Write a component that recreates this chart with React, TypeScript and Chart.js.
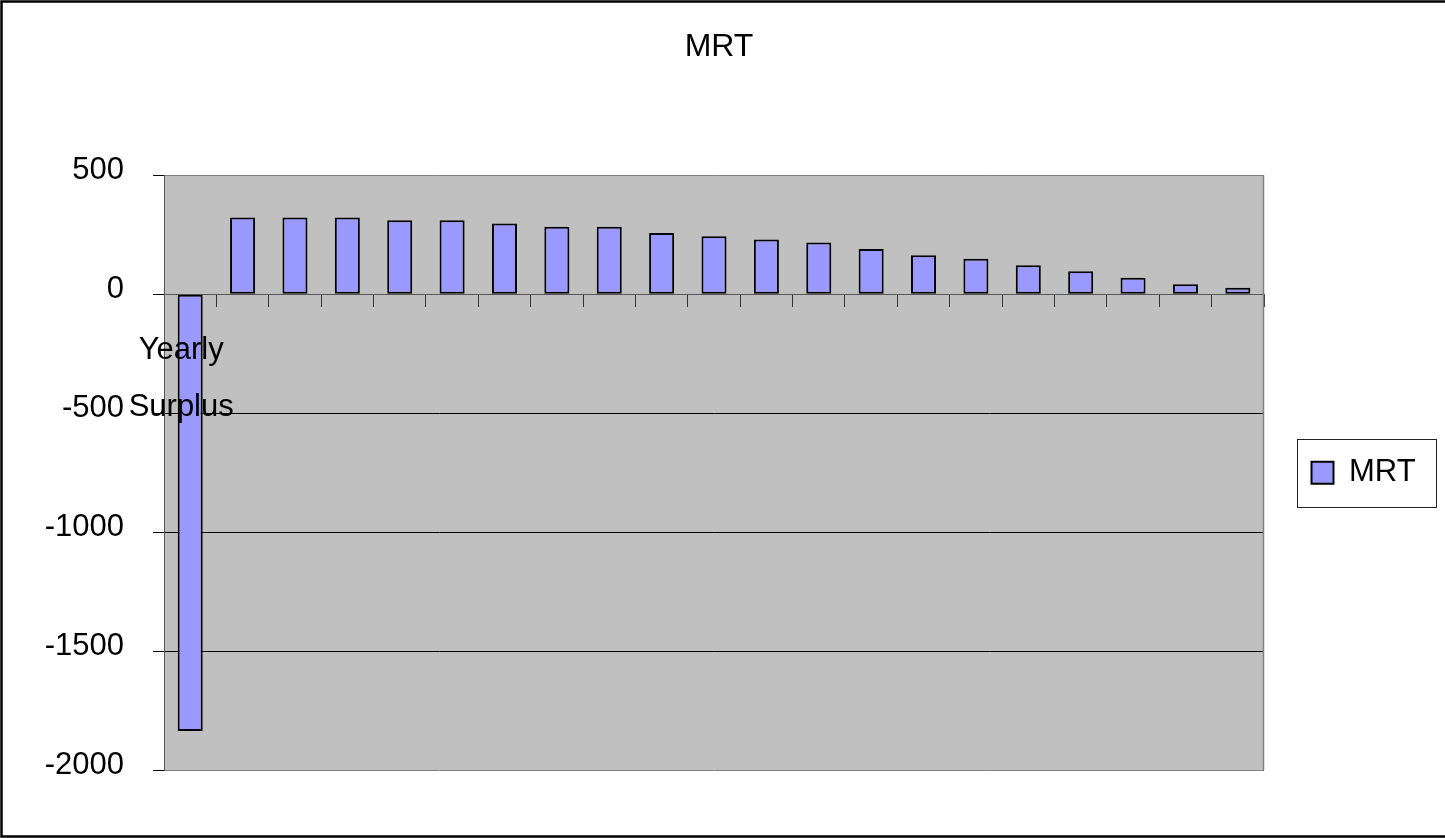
import React, { useEffect, useRef } from 'react';
import { Chart, registerables } from 'chart.js';

Chart.register(...registerables);

const chartTitle = 'MRT';
const seriesName = 'MRT';
const categories: (string | string[])[] = [
  ['Yearly', 'Surplus'], '', '', '', '', '', '', '', '', '', '', '', '', '', '', '', '', '', '', '', '',
];
const mrtValues = [-1836, 323, 323, 323, 311, 311, 298, 284, 284, 258, 244, 231, 218, 191, 164, 150, 122, 97, 70, 42, 28];
const yTickValues = [500, 0, -500, -1000, -1500, -2000];

const FONT = "'Liberation Sans', Arial, sans-serif";

const framePlugin = {
  id: 'frame',
  beforeDraw(chart: any) {
    const { ctx, chartArea: a } = chart;
    ctx.save();
    ctx.fillStyle = '#ffffff';
    ctx.fillRect(0, 0, chart.width, chart.height);
    ctx.strokeStyle = '#000000';
    ctx.lineWidth = 2.5;
    ctx.strokeRect(1.5, 1.5, chart.width + 10, 835);
    ctx.fillStyle = '#C0C0C0';
    ctx.fillRect(a.left, a.top, a.right - a.left, a.bottom - a.top);
    ctx.restore();
  },
  beforeDatasetsDraw(chart: any) {
    const { ctx, chartArea: a } = chart;
    ctx.save();
    ctx.strokeStyle = '#808080';
    ctx.lineWidth = 1.5;
    ctx.beginPath();
    ctx.moveTo(Math.round(a.right) - 0.5, a.top);
    ctx.lineTo(Math.round(a.right) - 0.5, a.bottom);
    ctx.stroke();
    ctx.restore();
  },
  afterDraw(chart: any) {
    const lg = chart.legend;
    if (!lg || !lg.legendHitBoxes || !lg.legendHitBoxes.length) return;
    const hb = lg.legendHitBoxes[0];
    const { ctx } = chart;
    const x1 = Math.round(hb.left - 15) + 0.5;
    const yc = hb.top + hb.height / 2;
    const y1 = Math.round(yc - 34) + 0.5;
    ctx.save();
    ctx.strokeStyle = '#222222';
    ctx.lineWidth = 1;
    ctx.strokeRect(x1, y1, 139, 68);
    ctx.restore();
  },
};

export default function App() {
  const ref = useRef<HTMLCanvasElement | null>(null);

  useEffect(() => {
    if (!ref.current) return;
    const chart = new Chart(ref.current, {
      type: 'bar',
      data: {
        labels: categories as any,
        datasets: [
          {
            label: seriesName,
            data: mrtValues,
            backgroundColor: '#9999FF',
            borderColor: '#000000',
            borderWidth: 2,
            borderSkipped: false,
            categoryPercentage: 1,
            barPercentage: 0.478,
          },
        ],
      },
      options: {
        animation: false,
        responsive: false,
        devicePixelRatio: 1,
        layout: { padding: { left: 12.4, right: 19.4, top: 0, bottom: 68 } },
        plugins: {
          title: {
            display: true,
            text: chartTitle,
            color: '#000',
            font: { family: FONT, size: 32, weight: 'normal', lineHeight: 1.2 },
            padding: { top: 28, bottom: 109 },
          },
          legend: {
            display: true,
            position: 'right',
            fullSize: false,
            labels: {
              color: '#000',
              font: { family: FONT, size: 31 },
              boxWidth: 22,
              boxHeight: 22,
              padding: 47.5,
            },
          },
          tooltip: { enabled: false },
        },
        scales: {
          x: {
            position: { y: 0 } as any,
            offset: true,
            grid: {
              offset: true,
              drawOnChartArea: false,
              drawTicks: true,
              tickLength: 12,
              tickColor: '#333',
              color: '#333',
            },
            border: { display: true, color: '#555', width: 1 },
            ticks: {
              z: 1,
              autoSkip: false,
              maxRotation: 0,
              minRotation: 0,
              color: '#000',
              padding: 16,
              labelOffset: -9,
              font: { family: FONT, size: 31, lineHeight: 1.829 },
            },
          },
          y: {
            min: -2000,
            max: 500,
            afterFit(scale: any) {
              scale.width = 151.6;
            },
            afterBuildTicks(scale: any) {
              scale.ticks = yTickValues.map((v) => ({ value: v }));
            },
            grid: {
              drawTicks: true,
              tickLength: 11,
              tickColor: '#000',
              color: (c: any) => {
                const v = c.tick ? c.tick.value : null;
                if (v === 500 || v === -2000) return '#808080';
                if (v === 0) return '#555';
                return '#000';
              },
            },
            border: { display: true, color: '#555', width: 1 },
            ticks: {
              color: '#000',
              padding: 29,
              labelOffset: -5,
              font: { family: FONT, size: 31 },
              callback: (v: any) => String(v),
            },
          },
        },
      },
      plugins: [framePlugin],
    });
    return () => chart.destroy();
  }, []);

  return (
    <div style={{ position: 'absolute', left: 0, top: 0, width: 1445, height: 838 }}>
      <canvas ref={ref} width={1445} height={838} style={{ display: 'block' }} />
    </div>
  );
}
